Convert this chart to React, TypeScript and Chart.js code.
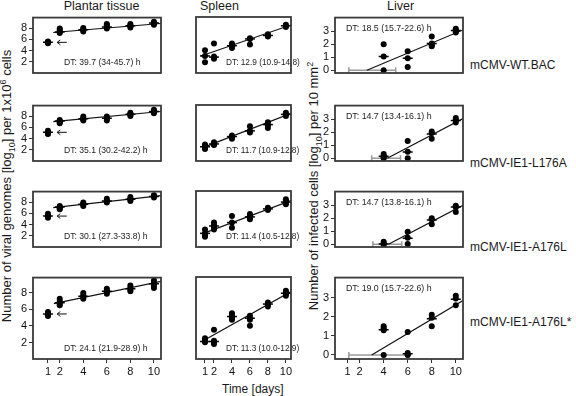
import React, { useEffect, useRef } from "react";
import { Chart, registerables } from "chart.js";
Chart.register(...registerables);

// ---------- data ----------
const DAYS = [1, 2, 4, 6, 8, 10];
const LIVER_DAYS = [4, 6, 8, 10];
const X_TICKS = [1, 2, 4, 6, 8, 10];
const GENOME_Y_TICKS = [2, 4, 6, 8];
const LIVER_Y_TICKS = [0, 1, 2, 3];
const VIRUSES = ["mCMV-WT.BAC", "mCMV-IE1-L176A", "mCMV-IE1-A176L", "mCMV-IE1-A176L*"];
const TISSUES = ["Plantar tissue", "Spleen", "Liver"];

const PLANTAR_WT = [[5.3, 5.4, 5.5, 5.6], [7.1, 7.3, 7.6, 7.9], [7.4, 7.6, 7.8, 8.0], [7.9, 8.2, 8.5, 8.7], [8.1, 8.3, 8.5, 8.7], [8.6, 8.8, 8.9, 9.1]];
const PLANTAR_WT_MED = [5.45, 7.3, 7.7, 8.2, 8.4, 8.9];
const PLANTAR_L176A = [[4.8, 4.9, 5.1, 5.4], [6.7, 6.9, 7.1, 7.3], [7.2, 7.4, 7.6, 7.9], [7.2, 7.5, 7.7, 7.9], [8.0, 8.2, 8.4, 8.6], [8.5, 8.7, 8.9, 9.1]];
const PLANTAR_L176A_MED = [5.1, 7.1, 7.5, 7.6, 8.3, 8.8];
const PLANTAR_A176L = [[5.2, 5.4, 5.6, 5.9], [6.7, 6.9, 7.1, 7.3], [7.3, 7.5, 7.7, 7.9], [7.9, 8.1, 8.3, 8.6], [8.2, 8.4, 8.6, 8.9], [8.8, 9.0, 9.1, 9.2]];
const PLANTAR_A176L_MED = [5.5, 7.1, 7.6, 8.2, 8.5, 9.0];
const PLANTAR_A176LS = [[5.2, 5.3, 5.5, 5.7], [6.5, 6.7, 7.0, 7.3], [7.3, 7.5, 7.7, 8.0], [7.9, 8.1, 8.3, 8.5], [8.2, 8.4, 8.6, 8.9], [8.6, 8.9, 9.2, 9.5]];
const PLANTAR_A176LS_MED = [5.45, 6.8, 7.6, 8.2, 8.5, 9.1];

const SPLEEN_WT = [[1.9, 3.0, 4.0], [2.5, 2.7, 2.9, 5.2], [4.4, 4.7, 4.9, 5.2], [5.0, 6.0, 6.1], [6.4, 6.6, 6.8], [8.1, 8.3, 8.5]];
const SPLEEN_WT_MED = [3.0, 2.8, 4.8, 6.0, 6.6, 8.3];
const SPLEEN_L176A = [[2.1, 2.3, 2.6, 2.9], [2.8, 2.9, 3.1, 3.3], [3.9, 4.2, 4.5], [5.0, 5.3, 6.1], [5.8, 6.3, 6.8], [7.9, 8.1, 8.3, 8.5]];
const SPLEEN_L176A_MED = [2.5, 3.0, 4.3, 5.3, 6.4, 8.2];
const SPLEEN_A176L = [[1.8, 2.1, 2.4, 3.1], [3.1, 3.4, 3.9, 4.3], [3.4, 4.3, 5.45], [4.9, 5.1, 5.4, 5.8], [6.5, 6.7, 6.9], [7.5, 7.8, 8.1, 8.4]];
const SPLEEN_A176L_MED = [2.4, 3.7, 4.3, 5.3, 6.7, 7.9];
const SPLEEN_A176LS = [[2.0, 2.1, 2.3, 2.5], [1.8, 2.0, 2.2, 3.5], [4.7, 4.9, 5.2, 5.5], [4.0, 4.7, 4.9, 5.2], [6.3, 6.6, 6.8], [7.6, 7.8, 8.0, 8.2]];
const SPLEEN_A176LS_MED = [2.1, 2.1, 5.1, 4.9, 6.6, 7.9];

const LIVER_WT = [[0, 1.05, 2.0], [0.25, 0.92, 1.47], [1.85, 1.95, 2.05, 2.6], [2.9, 3.0, 3.1, 3.2]];
const LIVER_WT_MED = [1.05, 0.92, 2.05, 3.05];
const LIVER_L176A = [[0, 0.05, 0.2, 0.32], [0, 0.5, 1.32], [1.5, 1.95, 2.05], [2.75, 2.95, 3.1]];
const LIVER_L176A_MED = [0.15, 0.48, 1.87, 2.9];
const LIVER_A176L = [[-0.05, 0.05, 0.2], [0.02, 0.5, 0.97], [1.53, 1.9, 2.0], [2.48, 2.85, 2.97]];
const LIVER_A176L_MED = [0.02, 0.47, 1.87, 2.86];
const LIVER_A176LS = [[0, 1.3, 1.4, 1.5], [0, 0.03, 0.1, 1.2], [1.5, 1.95, 2.1], [2.6, 2.95, 3.1]];
const LIVER_A176LS_MED = [1.32, 0.07, 1.9, 2.92];

// regression lines [x1, y1, x2, y2]
const PLANTAR_FITS = [[1.45, 7.2, 10.6, 8.8], [1.45, 7.0, 10.6, 8.8], [1.45, 7.0, 10.6, 9.15], [1.5, 6.7, 10.6, 9.4]];
const SPLEEN_FITS = [[0.55, 3.0, 10.57, 8.45], [0.7, 2.3, 10.57, 8.4], [0.75, 2.35, 10.57, 8.15], [0.65, 2.1, 10.57, 8.1]];
const LIVER_FITS = [[2.6, 0, 10.6, 3.1], [4.3, 0, 10.6, 3.05], [4.4, 0, 10.6, 3.0], [3.0, 0, 10.6, 2.85]];
// onset intervals (liver) [low, high]
const LIVER_ONSET = [[1.1, 5.0], [3.0, 5.4], [3.1, 5.5], [1.1, 6.1]];
// arrow from day 1 median (plantar) [tip x, tail x]
const ARROW_X = [1.78, 2.6];

const DT_PLANTAR = ["DT: 39.7 (34-45.7) h", "DT: 35.1 (30.2-42.2) h", "DT: 30.1 (27.3-33.8) h", "DT: 24.1 (21.9-28.9) h"];
const DT_SPLEEN = ["DT: 12.9 (10.9-14.8) h", "DT: 11.7 (10.9-12.8) h", "DT: 11.4 (10.5-12.8) h", "DT: 11.3 (10.0-12.9) h"];
const DT_LIVER = ["DT: 18.5 (15.7-22.6) h", "DT: 14.7 (13.4-16.1) h", "DT: 14.7 (13.8-16.1) h", "DT: 19.0 (15.7-22.6) h"];

const PLANTAR_GROUPS = [PLANTAR_WT, PLANTAR_L176A, PLANTAR_A176L, PLANTAR_A176LS];
const PLANTAR_MEDS = [PLANTAR_WT_MED, PLANTAR_L176A_MED, PLANTAR_A176L_MED, PLANTAR_A176LS_MED];
const SPLEEN_GROUPS = [SPLEEN_WT, SPLEEN_L176A, SPLEEN_A176L, SPLEEN_A176LS];
const SPLEEN_MEDS = [SPLEEN_WT_MED, SPLEEN_L176A_MED, SPLEEN_A176L_MED, SPLEEN_A176LS_MED];
const LIVER_GROUPS = [LIVER_WT, LIVER_L176A, LIVER_A176L, LIVER_A176LS];
const LIVER_MEDS = [LIVER_WT_MED, LIVER_L176A_MED, LIVER_A176L_MED, LIVER_A176LS_MED];

// ---------- layout ----------
const FONT = '"Liberation Sans", Arial, Helvetica, sans-serif';
const ROW_TOPS = [17, 105, 191, 277];
const BOX_H = 82;
const COLS = [
  { left: 33, width: 128, xMin: -0.27, xMax: 10.6, yMin: 0, yMax: 9.85, showY: true, yTicks: GENOME_Y_TICKS, dtSize: 8.6, dtDx: 31 },
  { left: 166, width: 125, xMin: 0, xMax: 10.57, yMin: 0, yMax: 9.85, showY: false, yTicks: GENOME_Y_TICKS, dtSize: 8.3, dtDx: 30 },
  { left: 335, width: 128, xMin: -0.05, xMax: 10.6, yMin: -0.21, yMax: 4.05, showY: true, yTicks: LIVER_Y_TICKS, dtSize: 8.8, dtDx: 11 },
];
const PAD_L = 30, PAD_R = 10, PAD_T = 8, PAD_B = 8, AXIS_H = 26;

const decorPlugin = {
  id: "decor",
  afterDatasetsDraw(chart: any, _args: any, opts: any) {
    const { ctx, chartArea: a, scales } = chart;
    ctx.save();
    if (opts.arrow) {
      const tip = scales.x.getPixelForValue(opts.arrow.tip);
      const tail = scales.x.getPixelForValue(opts.arrow.tail);
      const y = scales.y.getPixelForValue(opts.arrow.y);
      ctx.strokeStyle = "#111";
      ctx.lineWidth = 1;
      ctx.beginPath();
      ctx.moveTo(tail, y);
      ctx.lineTo(tip, y);
      ctx.moveTo(tip + 3.2, y - 2.4);
      ctx.lineTo(tip, y);
      ctx.lineTo(tip + 3.2, y + 2.4);
      ctx.stroke();
    }
    ctx.font = `${opts.dtSize}px ${FONT}`;
    ctx.fillStyle = "#222";
    ctx.textBaseline = "middle";
    ctx.textAlign = "left";
    const ty = opts.dtTop ? a.top + 11 : a.bottom - 10.5;
    ctx.fillText(opts.dt, a.left + opts.dtDx, ty);
    ctx.strokeStyle = "#3a3a3a";
    ctx.lineWidth = 1.8;
    ctx.strokeRect(a.left, a.top, a.right - a.left, a.bottom - a.top);
    ctx.restore();
  },
};

type PanelProps = { col: number; row: number };

function Panel({ col, row }: PanelProps) {
  const ref = useRef<HTMLCanvasElement>(null);
  const c = COLS[col];
  const showX = row === 3;
  const top = ROW_TOPS[row];
  const cw = c.width + PAD_L + PAD_R;
  const ch = BOX_H + PAD_T + (showX ? AXIS_H : PAD_B);

  useEffect(() => {
    const days = col === 2 ? LIVER_DAYS : DAYS;
    const groups = col === 0 ? PLANTAR_GROUPS[row] : col === 1 ? SPLEEN_GROUPS[row] : LIVER_GROUPS[row];
    const meds = col === 0 ? PLANTAR_MEDS[row] : col === 1 ? SPLEEN_MEDS[row] : LIVER_MEDS[row];
    const fit = col === 0 ? PLANTAR_FITS[row] : col === 1 ? SPLEEN_FITS[row] : LIVER_FITS[row];
    const dt = col === 0 ? DT_PLANTAR[row] : col === 1 ? DT_SPLEEN[row] : DT_LIVER[row];

    const points: { x: number; y: number }[] = [];
    groups.forEach((g, i) => g.forEach((v) => points.push({ x: days[i], y: v })));
    const medPts = meds.map((v, i) => ({ x: days[i], y: v }));

    const datasets: any[] = [];
    if (col === 2) {
      const on = LIVER_ONSET[row];
      datasets.push({
        type: "line",
        data: [{ x: on[0], y: 0 }, { x: on[1], y: 0 }],
        borderColor: "#9a9a9a",
        borderWidth: 1.5,
        pointStyle: "line",
        rotation: 90,
        pointRadius: 3,
        pointBorderColor: "#9a9a9a",
        pointBorderWidth: 1.5,
        order: 4,
      });
    }
    datasets.push({
      type: "line",
      data: [{ x: fit[0], y: fit[1] }, { x: fit[2], y: fit[3] }],
      borderColor: "#111",
      borderWidth: 1.2,
      pointRadius: 0,
      order: 3,
    });
    datasets.push({
      type: "scatter",
      data: points,
      pointRadius: 3,
      backgroundColor: "#000",
      borderWidth: 0,
      pointBorderWidth: 0,
      order: 2,
    });
    datasets.push({
      type: "scatter",
      data: medPts,
      pointStyle: "line",
      pointRadius: 5,
      borderColor: "#000",
      pointBorderColor: "#000",
      pointBorderWidth: 1.5,
      order: 1,
    });

    const tickFont = { family: FONT, size: 11 };
    const chart = new Chart(ref.current!, {
      type: "scatter",
      data: { datasets },
      plugins: [decorPlugin as any],
      options: {
        animation: false,
        responsive: false,
        events: [],
        layout: {
          padding: { left: c.showY ? 0 : PAD_L, right: PAD_R, top: PAD_T, bottom: showX ? 0 : PAD_B },
        },
        scales: {
          x: {
            type: "linear",
            min: c.xMin,
            max: c.xMax,
            display: showX,
            afterBuildTicks: (s: any) => { s.ticks = X_TICKS.map((v) => ({ value: v })); },
            afterFit: (s: any) => { s.height = AXIS_H; },
            grid: { display: true, drawOnChartArea: false, drawTicks: true, tickLength: 4, color: "#333", lineWidth: 1 },
            border: { display: false },
            ticks: { font: tickFont, color: "#111", padding: 2, autoSkip: false, maxRotation: 0, callback: (v: any) => String(v) },
          },
          y: {
            type: "linear",
            min: c.yMin,
            max: c.yMax,
            display: c.showY,
            afterBuildTicks: (s: any) => { s.ticks = c.yTicks.map((v) => ({ value: v })); },
            afterFit: (s: any) => { s.width = PAD_L; },
            grid: { display: true, drawOnChartArea: false, drawTicks: true, tickLength: 4, color: "#333", lineWidth: 1 },
            border: { display: false },
            ticks: { font: tickFont, color: "#111", padding: 2, autoSkip: false, callback: (v: any) => String(v) },
          },
        },
        plugins: {
          legend: { display: false },
          tooltip: { enabled: false },
          decor: {
            dt,
            dtTop: col === 2,
            dtDx: c.dtDx,
            dtSize: c.dtSize,
            arrow: col === 0 ? { tip: ARROW_X[0], tail: ARROW_X[1], y: meds[0] } : null,
          },
        } as any,
      },
    });
    return () => chart.destroy();
  }, [col, row]);

  return (
    <canvas
      ref={ref}
      width={cw}
      height={ch}
      style={{ position: "absolute", left: c.left - PAD_L, top: top - PAD_T, width: cw, height: ch }}
    />
  );
}

const textStyle: React.CSSProperties = {
  position: "absolute",
  fontFamily: FONT,
  fontSize: 12,
  lineHeight: "14px",
  color: "#1a1a1a",
  whiteSpace: "nowrap",
};

const TITLE_X = [101.5, 219.5, 400.5];
const ROW_LABEL_Y = [65, 163, 247, 322];

export default function App() {
  const panels: any[] = [];
  for (let r = 0; r < 4; r++) for (let c = 0; c < 3; c++) panels.push(<Panel key={`${r}-${c}`} col={c} row={r} />);
  return (
    <div style={{ position: "absolute", left: 0, top: 0, width: 576, height: 396, background: "#fff", overflow: "hidden" }}>
      {TISSUES.map((t, i) => (
        <div key={t} style={{ ...textStyle, fontSize: 12.5, left: TITLE_X[i] - 60, width: 120, textAlign: "center", top: -1 }}>{t}</div>
      ))}
      {VIRUSES.map((v, i) => (
        <div key={v} style={{ ...textStyle, left: 470, top: ROW_LABEL_Y[i] - 7 }}>{v}</div>
      ))}
      <div style={{ ...textStyle, left: 222, top: 382 }}>Time [days]</div>
      <div style={{ ...textStyle, fontSize: 13, left: 7, top: 186, transform: "translate(-50%, -50%) rotate(-90deg)" }}>
        Number of viral genomes [log<sub style={{ fontSize: 9, lineHeight: 0 }}>10</sub>] per 1x10<sup style={{ fontSize: 9, lineHeight: 0 }}>6</sup> cells
      </div>
      <div style={{ ...textStyle, fontSize: 13, left: 314, top: 186, transform: "translate(-50%, -50%) rotate(-90deg)" }}>
        Number of infected cells [log<sub style={{ fontSize: 9, lineHeight: 0 }}>10</sub>] per 10 mm<sup style={{ fontSize: 9, lineHeight: 0 }}>2</sup>
      </div>
      {panels}
    </div>
  );
}
